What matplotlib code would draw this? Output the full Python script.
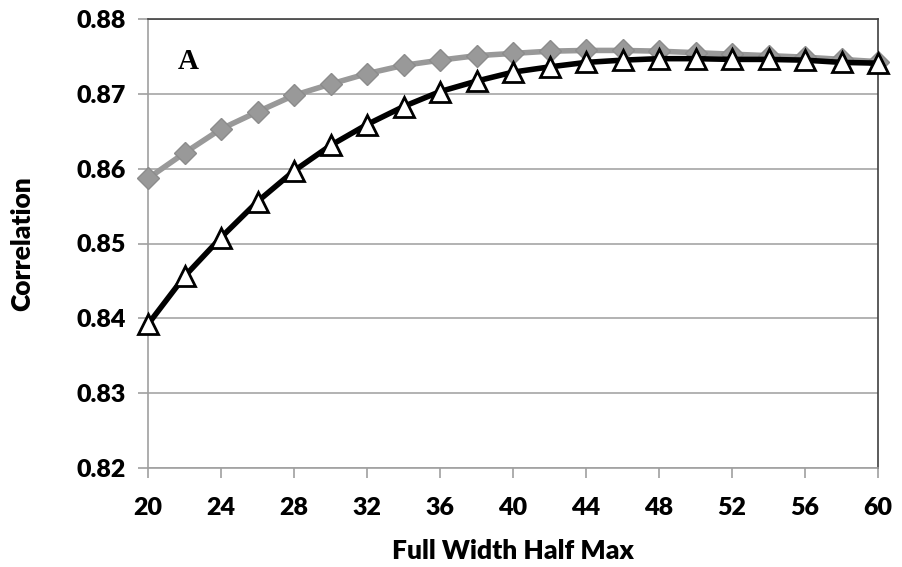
import numpy as np
from matplotlib import pyplot as plt

fwhm = np.arange(20, 61, 2)
corr_gray = [0.8587, 0.8621, 0.8653, 0.8676, 0.8698, 0.8713, 0.8727, 0.8738,
             0.8745, 0.8751, 0.8754, 0.8757, 0.8758, 0.8758, 0.8757, 0.8755,
             0.8753, 0.8751, 0.8749, 0.8746, 0.8743]
corr_black = [0.8392, 0.8456, 0.8508, 0.8556, 0.8597, 0.8631, 0.8659, 0.8683,
              0.8703, 0.8717, 0.8729, 0.8736, 0.8742, 0.8745, 0.8747, 0.8747,
              0.8746, 0.8746, 0.8745, 0.8742, 0.8741]
x_ticks = np.arange(20, 61, 4)
y_ticks = np.arange(0.82, 0.8801, 0.01)

fig = plt.figure(figsize=(9.03, 5.67), dpi=100)
ax = fig.add_axes([148 / 903, 1 - 468 / 567, 730 / 903, 449 / 567])

ax.plot(fwhm, corr_gray, color='#999999', lw=4, marker='D', ms=11,
        mfc='#999999', mec='#8c8c8c', zorder=3, clip_on=False)
ax.plot(fwhm, corr_black, color='black', lw=4, marker='^', ms=15,
        mfc='white', mec='black', mew=2, zorder=4, clip_on=False)

ax.set_xlim(20, 60)
ax.set_ylim(0.82, 0.88)
ax.set_xticks(x_ticks)
ax.set_yticks(y_ticks)
ax.set_yticklabels(['%.2f' % v for v in y_ticks])
ax.yaxis.grid(True, color='#a6a6a6', lw=1.2)
ax.set_axisbelow(True)

for s in ['left', 'bottom']:
    ax.spines[s].set_color('#a0a0a0')
    ax.spines[s].set_linewidth(1.2)
for s in ['top', 'right']:
    ax.spines[s].set_color('#404040')
    ax.spines[s].set_linewidth(1.2)
ax.tick_params(direction='out', length=7, width=1.2, color='#a0a0a0',
               labelsize=18)
ax.tick_params(axis='x', pad=14)
ax.tick_params(axis='y', pad=9)
for lab in ax.get_xticklabels() + ax.get_yticklabels():
    lab.set_family('Lato')
    lab.set_fontweight('heavy')

ax.set_xlabel('Full Width Half Max', family='Lato', fontweight='heavy',
              fontsize=19, labelpad=14)
ax.set_ylabel('Correlation', family='Lato', fontweight='heavy',
              fontsize=19, labelpad=30)
ax.text(22.2, 0.8743, 'A', family='Liberation Serif', fontweight='bold',
        fontsize=21, va='center', ha='center')

plt.savefig('out.png', dpi=100)
